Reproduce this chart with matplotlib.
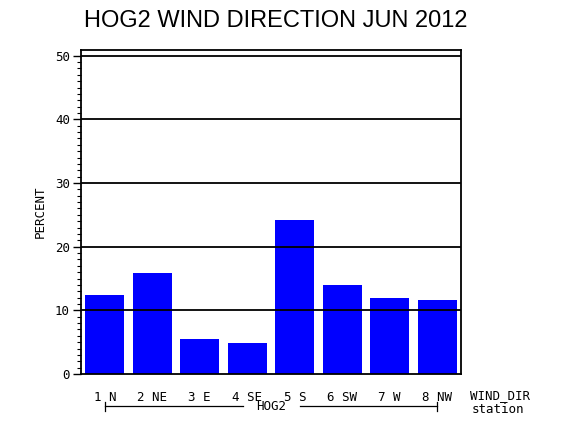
import numpy as np
import matplotlib
matplotlib.use("Agg")
import matplotlib.pyplot as plt
from matplotlib.ticker import MultipleLocator

# data
directions = ["1 N", "2 NE", "3 E", "4 SE", "5 S", "6 SW", "7 W", "8 NW"]
percent = [12.4, 15.9, 5.5, 4.9, 24.2, 14.0, 11.9, 11.6]
station = "HOG2"
title = "HOG2 WIND DIRECTION JUN 2012"

MONO = "DejaVu Sans Mono"
FS = 9

fig = plt.figure(figsize=(5.7, 4.3), dpi=100)
ax = fig.add_axes([81/570, 1-374/430, 380/570, 324/430])

x = np.arange(1, len(percent) + 1)
ax.bar(x, percent, width=0.82, color="#0000ff", zorder=1)

# black horizontal grid lines at the majors
for yv in range(10, 51, 10):
    ax.axhline(yv, color="black", lw=1.3, zorder=2)

ax.set_xlim(0.5, 8.5)
ax.set_ylim(0, 50.9)
ax.yaxis.set_major_locator(MultipleLocator(10))
ax.yaxis.set_minor_locator(MultipleLocator(1))
ax.set_xticks(x)
ax.set_xticklabels(directions, family=MONO, fontsize=FS)
ax.tick_params(axis="x", length=0, pad=12)
ax.tick_params(axis="y", which="major", length=6, width=1, pad=2, labelsize=FS)
ax.tick_params(axis="y", which="minor", length=3, width=0.8)
for lab in ax.get_yticklabels():
    lab.set_family(MONO)
for sp in ax.spines.values():
    sp.set_linewidth(1.3)

ax.set_ylabel("PERCENT", family=MONO, fontsize=FS)
ax.yaxis.set_label_coords(-0.089, 0.5)

# axis names on the right
fig.text(470/570, 1-399/430, "WIND_DIR", family=MONO, fontsize=FS, va="baseline", ha="left")
fig.text(472/570, 1-413/430, "station", family=MONO, fontsize=FS, va="baseline", ha="left")

# station bracket under the categories, broken around the name
tr = ax.get_xaxis_transform()
yb = -32/324
xmid = (x[0] + x[-1]) / 2
gap = 0.6
ax.plot([x[0], xmid - gap], [yb, yb], color="black", lw=0.9, transform=tr, clip_on=False)
ax.plot([xmid + gap, x[-1]], [yb, yb], color="black", lw=0.9, transform=tr, clip_on=False)
for xe in (x[0], x[-1]):
    ax.plot([xe, xe], [yb - 4.5/324, yb + 4.5/324], color="black", lw=0.9,
            transform=tr, clip_on=False)
ax.text(xmid, yb, station, transform=tr, ha="center", va="center",
        family=MONO, fontsize=FS)

fig.text(276/570, 1-21/430, title, family="Liberation Sans", fontsize=17,
         ha="center", va="center")

fig.savefig("out.png", dpi=100)
